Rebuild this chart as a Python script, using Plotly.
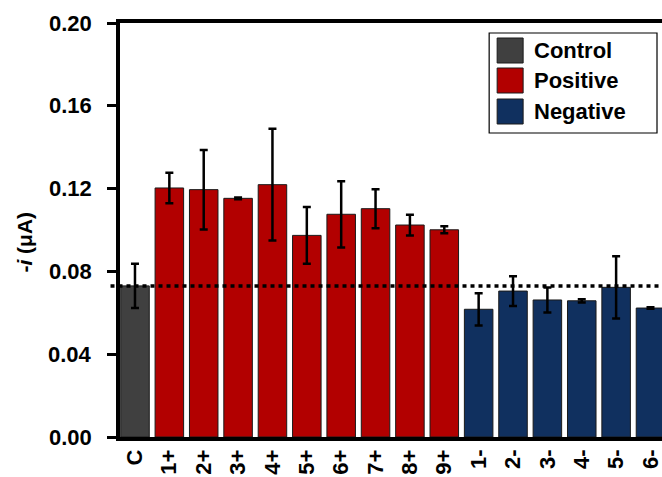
import plotly.graph_objects as go

# ---- data ----
categories = ["C", "1+", "2+", "3+", "4+", "5+", "6+", "7+", "8+", "9+",
              "1-", "2-", "3-", "4-", "5-", "6-"]
groups = ["Control"] + ["Positive"] * 9 + ["Negative"] * 6
values = [0.0730, 0.1203, 0.1195, 0.1153, 0.1219, 0.0974, 0.1076, 0.1103, 0.1024, 0.1001,
          0.0617, 0.0705, 0.0662, 0.0658, 0.0723, 0.0623]
errors = [0.0107, 0.0074, 0.0192, 0.0004, 0.0270, 0.0137, 0.0160, 0.0094, 0.0050, 0.0017,
          0.0078, 0.0072, 0.0060, 0.0008, 0.0150, 0.0004]
legend_names = ["Control", "Positive", "Negative"]
group_colors = {"Control": "#404040", "Positive": "#b20000", "Negative": "#10305f"}
y_ticks = [0.00, 0.04, 0.08, 0.12, 0.16, 0.20]
y_tick_labels = ["0.00", "0.04", "0.08", "0.12", "0.16", "0.20"]
baseline_value = values[0]

W, H = 662, 477
L, R, T, B = 119.5, 0, 23, 40
PW, PH = W - L - R, H - T - B

def px(x):
    return (x - L) / PW

def py(y):
    return (H - B - y) / PH

fig = go.Figure()
for g in legend_names:
    idx = [i for i, gg in enumerate(groups) if gg == g]
    fig.add_trace(go.Bar(
        x=[categories[i] for i in idx],
        y=[values[i] for i in idx],
        error_y=dict(type="data", array=[errors[i] for i in idx],
                     color="black", thickness=2.5, width=4),
        marker=dict(color=group_colors[g], line=dict(color="#1a1a1a", width=1)),
        name=g, showlegend=False,
    ))

# dotted reference line at control level
fig.add_shape(type="line", xref="paper", yref="y",
              x0=px(110), x1=1, y0=baseline_value, y1=baseline_value,
              line=dict(color="black", width=3.5, dash="4px,4px"), layer="above")

# manual legend
fig.add_shape(type="rect", xref="paper", yref="paper",
              x0=px(489), x1=px(657), y0=py(33), y1=py(133),
              line=dict(color="black", width=1.2), fillcolor="white", layer="above")
row_centers = [50.5, 80.5, 111.5]
for name, cy in zip(legend_names, row_centers):
    fig.add_shape(type="rect", xref="paper", yref="paper",
                  x0=px(497), x1=px(523), y0=py(cy - 12.5), y1=py(cy + 12.5),
                  line=dict(color="#1a1a1a", width=1), fillcolor=group_colors[name],
                  layer="above")
    fig.add_annotation(xref="paper", yref="paper", x=px(532), y=py(cy),
                       xanchor="left", yanchor="middle", showarrow=False,
                       text=name, font=dict(size=22, color="black", weight="bold"))

# y tick labels (placed with extra standoff from the tick marks)
for v, lab in zip(y_ticks, y_tick_labels):
    fig.add_annotation(xref="paper", yref="y", x=px(93), y=v,
                       xanchor="right", yanchor="middle", showarrow=False,
                       text=lab, font=dict(size=22, color="black", weight="bold"))

# y-axis title
fig.add_annotation(xref="paper", yref="paper", x=px(23), y=py(242),
                   xanchor="center", yanchor="middle", showarrow=False,
                   textangle=-90, text="-<i>i</i> (μA)",
                   font=dict(size=21, color="black", weight="bold"))

fig.update_layout(
    width=W, height=H,
    margin=dict(l=L, r=R, t=T, b=B, pad=0),
    paper_bgcolor="white", plot_bgcolor="white",
    font=dict(family="Liberation Sans, Arial, sans-serif", size=22, color="black", weight="bold"),
    barmode="group", bargap=0.17,
    showlegend=False,
)
fig.update_xaxes(
    type="category", categoryorder="array", categoryarray=categories,
    range=[-0.436, 15.335],
    showline=True, linecolor="black", linewidth=3.5, mirror=True,
    ticks="", tickangle=-90, showgrid=False, zeroline=False,
    tickfont=dict(size=22),
)
fig.update_yaxes(
    range=[0, 0.20], tickvals=y_ticks, showticklabels=False,
    showline=True, linecolor="black", linewidth=3.5, mirror=False,
    ticks="outside", ticklen=9, tickwidth=3, tickcolor="black",
    showgrid=False, zeroline=False,
)

fig.write_html("out.html")
